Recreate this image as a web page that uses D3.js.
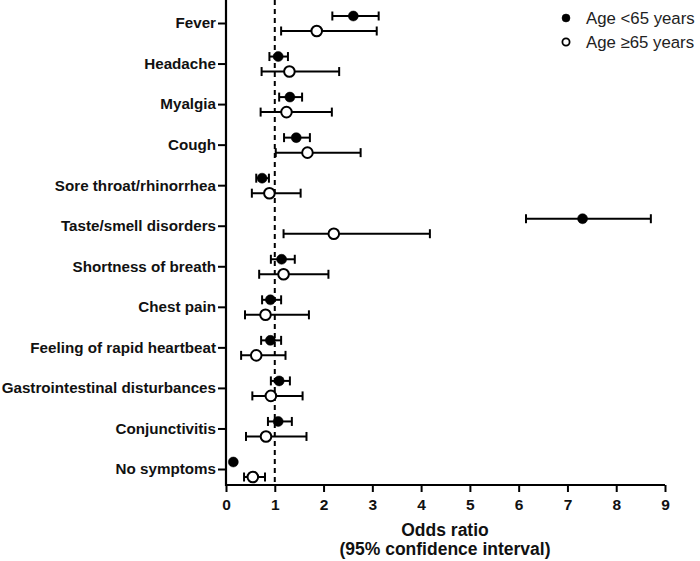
<!DOCTYPE html>
<html><head><meta charset="utf-8">
<script src="https://cdn.jsdelivr.net/npm/d3@7/dist/d3.min.js"></script>
<style>body{margin:0;background:#fff}svg{display:block}</style>
</head><body>
<svg id="c" width="700" height="561"></svg>
<script>
const categories = ["Fever","Headache","Myalgia","Cough","Sore throat/rhinorrhea","Taste/smell disorders","Shortness of breath","Chest pain","Feeling of rapid heartbeat","Gastrointestinal disturbances","Conjunctivitis","No symptoms"];
const youngOR  = [2.61,1.07,1.31,1.44,0.74,7.31,1.14,0.91,0.91,1.09,1.07,0.15];
const youngLow = [2.18,0.89,1.09,1.19,0.62,6.15,0.92,0.74,0.72,0.92,0.86,0.15];
const youngHigh= [3.13,1.27,1.56,1.72,0.88,8.71,1.41,1.13,1.13,1.31,1.35,0.15];
const oldOR    = [1.86,1.30,1.24,1.67,0.89,2.21,1.18,0.81,0.62,0.92,0.82,0.55];
const oldLow   = [1.13,0.73,0.71,1.02,0.53,1.18,0.68,0.39,0.31,0.54,0.41,0.37];
const oldHigh  = [3.09,2.32,2.17,2.76,1.53,4.18,2.10,1.70,1.22,1.57,1.65,0.80];
const xTicks = [0,1,2,3,4,5,6,7,8,9];
const legendLabels = ["Age <65 years","Age \u226565 years"];

const svg = d3.select("#c");
const x = d3.scaleLinear().domain([0,9]).range([226,665]);
const y = d3.scalePoint().domain(categories).range([23,469]);
const font = "'Liberation Sans', Arial, sans-serif";

// reference line at OR=1
svg.append("line").attr("x1",x(1)).attr("x2",x(1)).attr("y1",0).attr("y2",485)
  .attr("stroke","#000").attr("stroke-width",2).attr("stroke-dasharray","5,4");

// axes
const xAxis = svg.append("g").attr("transform","translate(0,485)")
  .call(d3.axisBottom(x).tickValues(xTicks).tickFormat(d3.format("d")).tickSize(7).tickSizeOuter(0));
xAxis.select(".domain").attr("stroke-width",2.2).attr("d",`M${x(0)},0H${x(9)}`);
xAxis.selectAll(".tick line").attr("stroke-width",2);
xAxis.selectAll(".tick text").attr("font-family",font).attr("font-weight","bold").attr("font-size",15.5).attr("dy","0.95em").attr("fill","#111");

const yAxis = svg.append("g").attr("transform",`translate(${x(0)},0)`)
  .call(d3.axisLeft(y).tickSize(8).tickSizeOuter(0).tickPadding(2));
yAxis.select(".domain").attr("stroke-width",2.2).attr("d","M0,0V486");
yAxis.selectAll(".tick line").attr("stroke-width",2);
yAxis.selectAll(".tick text").attr("font-family",font).attr("font-weight","bold").attr("font-size",15.2).attr("fill","#111");

const off = {young:-7, old:8};
const series = [
  {key:"young", or:youngOR, lo:youngLow, hi:youngHigh, fill:"#000"},
  {key:"old", or:oldOR, lo:oldLow, hi:oldHigh, fill:"#fff"}
];
series.forEach(s=>{
  const g = svg.append("g");
  categories.forEach((c,i)=>{
    const yy = y(c)+off[s.key];
    if (s.hi[i] > s.lo[i]) {
      g.append("line").attr("x1",x(s.lo[i])).attr("x2",x(s.hi[i])).attr("y1",yy).attr("y2",yy)
        .attr("stroke","#000").attr("stroke-width",2);
      [s.lo[i],s.hi[i]].forEach(v=>{
        g.append("line").attr("x1",x(v)).attr("x2",x(v)).attr("y1",yy-4.5).attr("y2",yy+4.5)
          .attr("stroke","#000").attr("stroke-width",2);
      });
    }
    g.append("circle").attr("cx",x(s.or[i])).attr("cy",yy)
      .attr("r", s.key==="young"?5:5.3)
      .attr("fill",s.fill).attr("stroke","#000").attr("stroke-width",s.key==="young"?0.5:2);
  });
});

// legend
legendLabels.forEach((t,i)=>{
  const ly = 18 + i*24;
  svg.append("circle").attr("cx",566).attr("cy",ly).attr("r",i===0?4:3.6)
    .attr("fill",i===0?"#000":"#fff").attr("stroke","#000").attr("stroke-width",i===0?0.5:1.8);
  svg.append("text").attr("x",586).attr("y",ly+6).text(t)
    .attr("font-family",font).attr("font-size",16.8).attr("fill","#222");
});

// x title
svg.append("text").attr("x",445).attr("y",536).attr("text-anchor","middle").text("Odds ratio")
  .attr("font-family",font).attr("font-weight","bold").attr("font-size",17.5).attr("fill","#111");
svg.append("text").attr("x",445).attr("y",555).attr("text-anchor","middle").text("(95% confidence interval)")
  .attr("font-family",font).attr("font-weight","bold").attr("font-size",17.5).attr("fill","#111");
</script>
</body></html>
